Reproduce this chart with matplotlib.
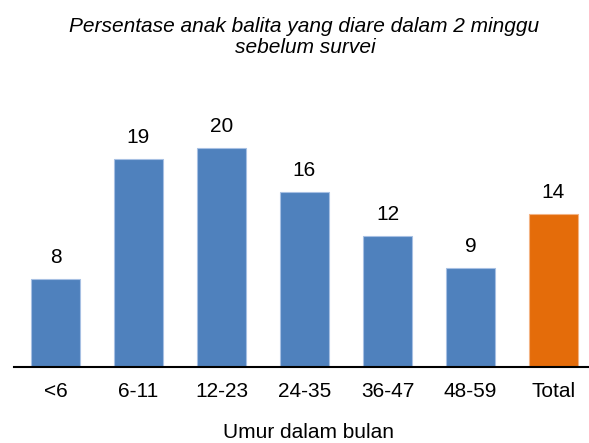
import matplotlib
matplotlib.use("Agg")
import matplotlib.pyplot as plt

categories = ["<6", "6-11", "12-23", "24-35", "36-47", "48-59", "Total"]
values = [8, 19, 20, 16, 12, 9, 14]
colors = ["#4F81BD"] * 6 + ["#E46C0A"]
edges = ["#A7C0E3"] * 6 + ["#F3B383"]

plt.rcParams["font.family"] = ["Liberation Sans", "DejaVu Sans"]
FS = 15

fig = plt.figure(figsize=(5.89, 4.43), dpi=100)
ax = fig.add_axes([14 / 589, (443 - 367) / 443, 581 / 589, (367 - 100) / 443])

x = range(len(categories))
ax.bar(x, values, width=0.58, color=colors, edgecolor=edges, linewidth=0.8)
for xi, v in zip(x, values):
    ax.annotate(str(v), (xi, v), xytext=(0, 11.5), textcoords="offset points",
                ha="center", va="baseline", fontsize=FS, color="#000000")

ax.set_xlim(-0.5, 6.5)
ax.set_ylim(0, 267 / 10.95)
ax.set_xticks(list(x))
ax.set_xticklabels(categories, fontsize=FS)
ax.tick_params(axis="x", length=0, pad=10.5)
ax.set_yticks([])
for s in ["top", "right", "left"]:
    ax.spines[s].set_visible(False)
ax.spines["bottom"].set_linewidth(1.5)
ax.spines["bottom"].set_color("#000000")

fig.text(304.5 / 589, 1 - 31.7 / 443, "Persentase anak balita yang diare dalam 2 minggu",
         ha="center", va="baseline", fontsize=FS, style="italic")
fig.text(305 / 589, 1 - 53 / 443, "sebelum survei",
         ha="center", va="baseline", fontsize=FS, style="italic")
fig.text(308.5 / 589, 1 - 438 / 443, "Umur dalam bulan", ha="center", va="baseline",
         fontsize=FS)

fig.savefig("out.png", dpi=100)
